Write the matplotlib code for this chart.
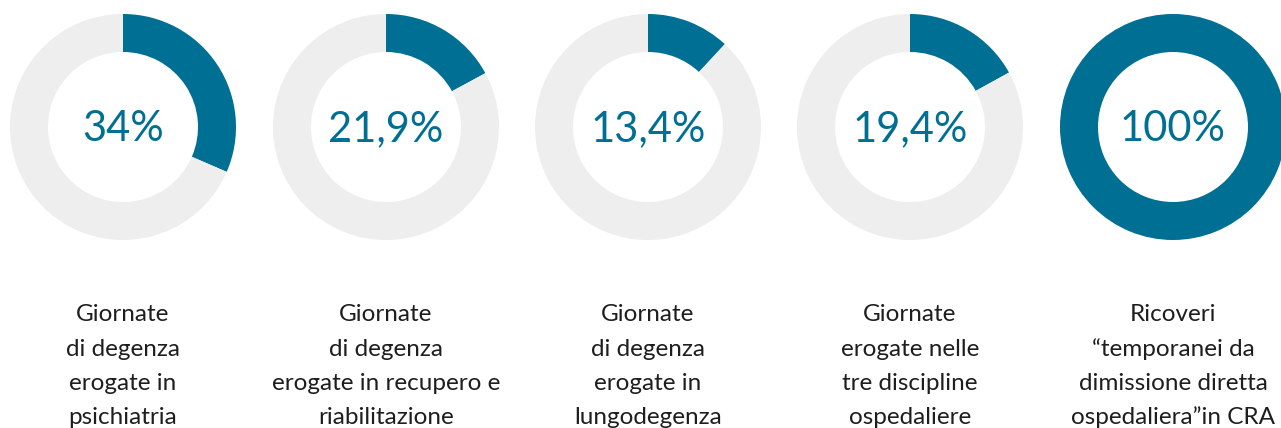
import matplotlib
matplotlib.use("Agg")
import matplotlib.pyplot as plt

# value printed inside each ring
value_labels = ["34%", "21,9%", "13,4%", "19,4%", "100%"]
# share of the ring drawn in blue (percent)
arc_shares = [31.5, 17.1, 11.9, 17.0, 100.0]
captions = [
    ["Giornate", "di degenza", "erogate in", "psichiatria"],
    ["Giornate", "di degenza", "erogate in recupero e", "riabilitazione"],
    ["Giornate", "di degenza", "erogate in", "lungodegenza"],
    ["Giornate", "erogate nelle", "tre discipline", "ospedaliere"],
    ["Ricoveri", "\u201ctemporanei da", "dimissione diretta", "ospedaliera\u201din CRA"],
]

BLUE = "#006F94"
GREY = "#EEEEEE"
TEXT = "#1E1E1E"

W, H = 1281, 428
fig = plt.figure(figsize=(W / 100, H / 100), dpi=100)
ax = fig.add_axes([0, 0, 1, 1])

centers_x = [123, 386, 648, 910, 1173]
cy = H - 127
R = 113
ring = 38
baselines = [321, 355.5, 390, 424.5]

for cx, v, lab, cap in zip(centers_x, arc_shares, value_labels, captions):
    ax.pie([v, 100 - v], colors=[BLUE, GREY], center=(cx, cy), radius=R,
           startangle=90, counterclock=False,
           wedgeprops=dict(width=ring, linewidth=0))
    ax.text(cx, H - 141, lab, ha="center", va="baseline", fontsize=30,
            color=BLUE, family="Lato", fontweight="normal")
    for line, b in zip(cap, baselines):
        ax.text(cx, H - b, line, ha="center", va="baseline", fontsize=17.5,
                color=TEXT, family="Lato")

ax.set_xlim(0, W)
ax.set_ylim(0, H)
ax.set_aspect("equal")
ax.axis("off")
fig.savefig("out.png", dpi=100, facecolor="white")
